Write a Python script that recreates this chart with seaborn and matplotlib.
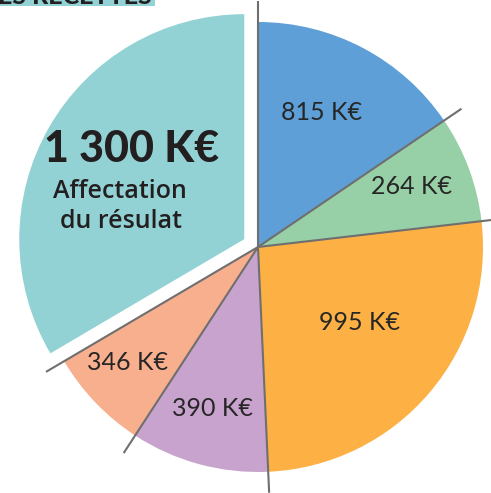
import numpy as np
import matplotlib
matplotlib.use("Agg")
import matplotlib.pyplot as plt
import seaborn as sns
from matplotlib.patches import Rectangle

sns.set_theme(style="white")
plt.rcParams['font.family'] = ['Lato', 'DejaVu Sans']

# Data (clockwise from top)
labels = ["815 K€", "264 K€", "995 K€", "390 K€", "346 K€", "1 300 K€"]
# apparent angular share of each slice as drawn in the picture (degrees)
shares = [55.8, 27.6, 94.0, 35.7, 26.4, 120.5]
colors = ["#5D9FD6", "#97D0A6", "#FDB144", "#C8A3CE", "#F8AF8D", "#93D2D4"]
title_text = "LES RECETTES"
big_caption = ["Affectation", "du résulat"]

W, H = 491, 493
fig = plt.figure(figsize=(W / 100, H / 100), dpi=100)
ax = fig.add_axes([0, 0, 1, 1])

cx, cy = 258, H - 247
R = 225
explode = [0, 0, 0, 0, 0, 15.8]
wedges, _ = ax.pie(shares, colors=sns.color_palette(colors), startangle=90,
                   counterclock=False, center=(cx, cy), radius=R,
                   explode=explode, wedgeprops=dict(linewidth=0))

# separator lines from the centre
L = 246
for w in wedges:
    t = np.deg2rad(w.theta1)
    ax.plot([cx, cx + L * np.cos(t)], [cy, cy + L * np.sin(t)],
            color="#6f6f6f", lw=1.5, zorder=5, solid_capstyle="butt")

# labels
pos = [(322, 113), (412, 187), (360, 323), (212, 408), (128, 362)]
for (x, y), lab in zip(pos, labels[:5]):
    ax.text(x, H - y, lab, ha="center", va="center", fontsize=18,
            color="#262626", zorder=6)

ax.text(132, H - 149, labels[5], ha="center", va="center", fontsize=31,
        fontweight="black", color="#231f20", zorder=6)
ax.text(120, H - 192, big_caption[0], ha="center", va="center", fontsize=18,
        fontweight="semibold", color="#231f20", zorder=6,
        family=["Open Sans", "DejaVu Sans"])
ax.text(121, H - 222, big_caption[1], ha="center", va="center", fontsize=18,
        fontweight="semibold", color="#231f20", zorder=6,
        family=["Open Sans", "DejaVu Sans"])

# header (cut off at the top in the reference)
ax.add_patch(Rectangle((0, H - 6), 155, 6, color="#93D2D4", zorder=6, lw=0))
ax.text(152, H - 4, title_text, ha="right", va="baseline", fontsize=18,
        fontweight="black", color="#231f20", zorder=7)

ax.set_xlim(0, W)
ax.set_ylim(0, H)
ax.set_aspect("auto")
ax.axis("off")
fig.savefig("out.png", dpi=100)
